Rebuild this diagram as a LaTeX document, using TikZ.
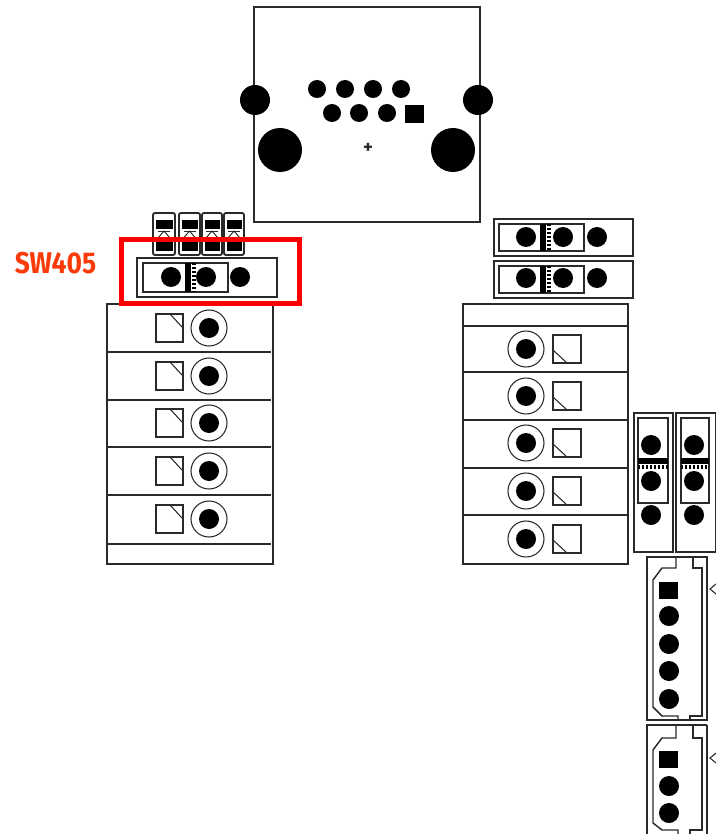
\documentclass[tikz,border=0pt]{standalone}
\usepackage{fontspec}
\setmainfont{Fira Sans}
\definecolor{lbl}{HTML}{FA3A08}
\definecolor{ink}{HTML}{2A2A2A}
\tikzset{
  ln/.style={draw=ink,line width=1.1pt},
  thin ln/.style={draw=ink,line width=0.8pt},
  pad/.style={fill=black},
  frame/.style={draw=red,line width=3.6pt},
  hatchbar/.style={draw=black,line width=4.2pt},
  hatchdot/.style={draw=black,line width=2.4pt,dash pattern=on 1.5pt off 1.5pt},
}
\newcommand{\padat}[3]{\fill[pad] (#1,#2) circle[radius=#3];}
% horizontal jumper: outer x1 x2 y1 y2, inner x1 x2, dots x a b c
\newcommand{\jumpH}[9]{%
  \draw[ln] (#1,#3) rectangle (#2,#4);
  \draw[ln] (#5,{#3+5}) rectangle (#6,{#4-5});
  \draw[hatchbar] ({#7+17},{#3+5}) -- ({#7+17},{#4-5});
  \draw[hatchdot] ({#7+23},{#3+5}) -- ({#7+23},{#4-5});
  \padat{#7}{#9}{10}\padat{#8}{#9}{10}\padat{{#8+34}}{#9}{10}
}
% vertical jumper
\newcommand{\jumpV}[6]{%
  \draw[ln] (#1,413) rectangle (#2,552);
  \draw[ln] (#3,418) rectangle (#4,503);
  \draw[hatchbar] (#3,461) -- (#4,461);
  \draw[hatchdot] (#3,467) -- (#4,467);
  \padat{#5}{445}{10}\padat{#5}{481}{10}\padat{#5}{515}{10}
}
% left row
\newcommand{\rowL}[1]{%
  \draw[thin ln] (156,{#1-14}) rectangle (183,{#1+14});
  \draw[thin ln] (170,{#1-14}) -- (183,{#1});
  \draw[thin ln] (209,#1) circle[radius=18];
  \padat{209}{#1}{10}
}
% right row
\newcommand{\rowR}[1]{%
  \draw[thin ln] (553,{#1-14}) rectangle (581,{#1+14});
  \draw[thin ln] (553,{#1+1}) -- (567,{#1+14});
  \draw[thin ln] (526,#1) circle[radius=18];
  \padat{526}{#1}{10}
}
% diode
\newcommand{\diode}[2]{%
  \draw[ink,line width=1.4pt,rounded corners=1.5pt] (#1,213) rectangle (#2,255);
  \fill[black] ({#1+2.5},220) rectangle ({#2-2.5},229);
  \fill[black] ({#1+2.5},241) rectangle ({#2-2.5},251);
  \draw[ink,line width=0.7pt] ({(#1+#2)/2-6},238) -- ({(#1+#2)/2},231) -- ({(#1+#2)/2+6},238) -- cycle;
  \draw[ink,line width=0.7pt] ({(#1+#2)/2-6},231) -- ({(#1+#2)/2+6},231);
}
\begin{document}
\begin{tikzpicture}[x=0.75pt,y=-0.75pt]
\useasboundingbox (0,0) rectangle (715,834);
% top connector
\draw[ln] (254,7) rectangle (480,222);
\padat{255}{100}{15}\padat{478}{100}{15}
\padat{280}{150}{22}\padat{453}{150}{22}
\foreach \x in {317,345,373,401} {\padat{\x}{89}{9}}
\foreach \x in {332,359,387} {\padat{\x}{113}{9}}
\fill[black] (405,105) rectangle (424,123);
\node[text=ink,font=\bfseries\fontsize{14pt}{14pt}\selectfont,inner sep=0pt] (plus) at (368,148) {+};
% diodes
\diode{153}{175}\diode{179}{200}\diode{202}{222}\diode{224}{244}
% jumpers
\jumpH{137}{277}{258}{297}{143}{228}{171}{206}{277}
\jumpH{494}{633}{219}{256}{499}{584}{526}{563}{237}
\jumpH{494}{633}{261}{298}{499}{584}{526}{563}{278}
\jumpV{634}{673}{638}{668}{651}{0}
\jumpV{676}{716}{681}{709}{694}{0}
% left block
\draw[ln] (107,304) rectangle (273,564);
\foreach \y in {352,400,447,495,544} {\draw[ln] (107,\y) -- (271,\y);}
\foreach \y in {328,376,423,471,519} {\rowL{\y}}
% right block
\draw[ln] (463,304) rectangle (628,564);
\foreach \y in {326,372,420,468,515} {\draw[ln] (463,\y) -- (628,\y);}
\foreach \y in {349,396,443,491,539} {\rowR{\y}}
% lower connector 1
\draw[ln] (647,557) rectangle (707,720);
\draw[ln] (676,557) -- (676,568) -- (662,568) -- (653,580) -- (653,707) -- (662,716) -- (678,716) -- (678,720);
\draw[ln] (693,557) -- (693,568) -- (702,568) -- (702,716) -- (690,716) -- (690,720);
\fill[black] (659,582) rectangle (678,599);
\foreach \y in {616,644,671,699} {\padat{669}{\y}{10}}
% lower connector 2
\draw[ln] (707,725) -- (647,725) -- (647,836);
\draw[ln] (707,725) -- (707,836);
\draw[ln] (676,725) -- (676,738) -- (662,738) -- (653,750) -- (653,823) -- (662,830) -- (678,830) -- (678,836);
\draw[ln] (693,725) -- (693,738) -- (702,738) -- (702,830) -- (690,830) -- (690,836);
\fill[black] (659,751) rectangle (678,768);
\foreach \y in {786,813} {\padat{669}{\y}{10}}
% edge marks
\draw[thin ln] (716,584) -- (710,589) -- (716,594);
\draw[thin ln] (716,753) -- (710,758) -- (716,763);
% red frame
\draw[frame] (121.5,239.5) rectangle (299.5,303.5);
\node[text=lbl,font=\bfseries\fontsize{22.5pt}{22.5pt}\selectfont,inner sep=0pt,xscale=0.88,transform shape] (sw) at (55.5,263.5) {SW405};
\end{tikzpicture}
\end{document}
